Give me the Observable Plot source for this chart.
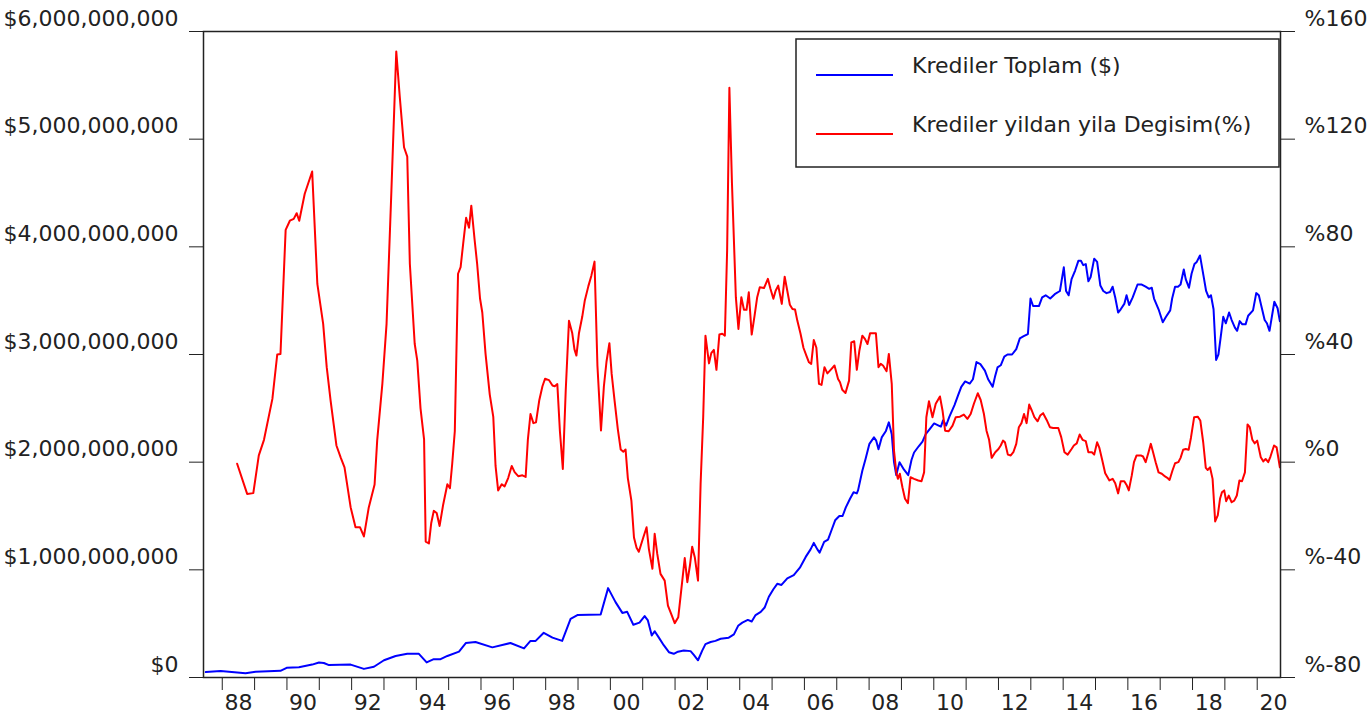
<!DOCTYPE html>
<html>
<head>
<meta charset="utf-8">
<script src="https://cdn.jsdelivr.net/npm/d3@7"></script>
<script src="https://cdn.jsdelivr.net/npm/@observablehq/plot@0.6"></script>
<style>
  html, body { margin: 0; padding: 0; background: #fff; }
  svg { display: block; }
</style>
</head>
<body>
<div id="chart"></div>
<script>
// Krediler Toplam (billions of $), [decimal year, value]
const blueSeries = [
  [1987.49,0.05],[1987.95,0.06],[1988.72,0.04],[1989.03,0.053],[1989.80,0.062],[1989.99,0.09],
  [1990.37,0.096],[1990.78,0.12],[1990.99,0.14],[1991.14,0.135],[1991.30,0.115],[1991.97,0.12],
  [1992.38,0.08],[1992.69,0.10],[1993.00,0.16],[1993.36,0.20],[1993.72,0.22],[1994.08,0.22],
  [1994.32,0.14],[1994.54,0.17],[1994.75,0.17],[1994.96,0.20],[1995.32,0.24],[1995.53,0.32],
  [1995.83,0.33],[1996.35,0.28],[1996.91,0.32],[1997.33,0.27],[1997.53,0.34],[1997.69,0.34],
  [1997.94,0.415],[1998.21,0.37],[1998.51,0.34],[1998.77,0.545],[1998.98,0.58],[1999.70,0.585],
  [1999.93,0.83],[2000.16,0.70],[2000.37,0.60],[2000.52,0.61],[2000.71,0.49],[2000.90,0.51],
  [2001.06,0.57],[2001.16,0.53],[2001.28,0.39],[2001.37,0.43],[2001.50,0.37],[2001.65,0.30],
  [2001.81,0.235],[2001.96,0.22],[2002.09,0.24],[2002.27,0.25],[2002.48,0.245],[2002.58,0.21],
  [2002.71,0.16],[2002.84,0.25],[2002.94,0.31],[2003.10,0.33],[2003.25,0.34],[2003.41,0.36],
  [2003.66,0.37],[2003.82,0.40],[2003.95,0.48],[2004.08,0.51],[2004.25,0.535],[2004.37,0.52],
  [2004.49,0.58],[2004.65,0.61],[2004.77,0.65],[2004.90,0.75],[2005.04,0.82],[2005.16,0.87],
  [2005.29,0.86],[2005.47,0.92],[2005.67,0.95],[2005.86,1.02],[2006.04,1.12],[2006.19,1.19],
  [2006.29,1.25],[2006.40,1.19],[2006.47,1.16],[2006.61,1.26],[2006.73,1.28],[2006.84,1.37],
  [2006.95,1.46],[2007.08,1.50],[2007.18,1.50],[2007.28,1.58],[2007.41,1.66],[2007.52,1.72],
  [2007.62,1.71],[2007.66,1.74],[2007.79,1.92],[2007.89,2.03],[2008.01,2.17],[2008.15,2.23],
  [2008.22,2.20],[2008.29,2.12],[2008.39,2.23],[2008.52,2.29],[2008.61,2.37],[2008.70,2.26],
  [2008.77,2.00],[2008.84,1.88],[2008.94,2.00],[2009.08,1.93],[2009.21,1.88],[2009.31,2.02],
  [2009.39,2.09],[2009.54,2.15],[2009.65,2.19],[2009.75,2.26],[2009.88,2.31],[2010.01,2.36],
  [2010.15,2.34],[2010.22,2.33],[2010.29,2.39],[2010.38,2.34],[2010.48,2.42],[2010.64,2.53],
  [2010.75,2.62],[2010.85,2.70],[2010.97,2.75],[2011.11,2.73],[2011.21,2.77],[2011.32,2.93],
  [2011.44,2.91],[2011.58,2.85],[2011.68,2.77],[2011.82,2.70],[2011.89,2.79],[2011.97,2.88],
  [2012.07,2.90],[2012.18,2.98],[2012.28,3.00],[2012.42,3.00],[2012.55,3.05],[2012.66,3.15],
  [2012.78,3.17],[2012.91,3.19],[2012.99,3.52],[2013.07,3.45],[2013.25,3.45],[2013.35,3.53],
  [2013.46,3.55],[2013.60,3.52],[2013.74,3.56],[2013.90,3.59],[2014.02,3.81],[2014.09,3.59],
  [2014.17,3.55],[2014.26,3.70],[2014.37,3.78],[2014.47,3.87],[2014.55,3.87],[2014.62,3.83],
  [2014.70,3.84],[2014.78,3.68],[2014.85,3.72],[2014.96,3.89],[2015.05,3.86],[2015.15,3.64],
  [2015.24,3.59],[2015.34,3.57],[2015.45,3.58],[2015.53,3.63],[2015.61,3.53],[2015.70,3.39],
  [2015.78,3.42],[2015.89,3.47],[2015.96,3.55],[2016.04,3.46],[2016.15,3.53],[2016.30,3.65],
  [2016.43,3.65],[2016.55,3.63],[2016.66,3.61],[2016.74,3.62],[2016.81,3.52],[2016.95,3.42],
  [2017.08,3.30],[2017.18,3.35],[2017.31,3.41],[2017.37,3.52],[2017.46,3.63],[2017.55,3.63],
  [2017.63,3.65],[2017.73,3.79],[2017.79,3.70],[2017.89,3.62],[2017.97,3.75],[2018.06,3.84],
  [2018.13,3.86],[2018.23,3.92],[2018.34,3.73],[2018.42,3.59],[2018.50,3.53],[2018.57,3.55],
  [2018.65,3.42],[2018.73,2.95],[2018.80,3.00],[2018.87,3.16],[2018.95,3.35],[2019.03,3.29],
  [2019.13,3.39],[2019.21,3.32],[2019.31,3.25],[2019.38,3.22],[2019.46,3.31],[2019.54,3.28],
  [2019.64,3.28],[2019.72,3.36],[2019.87,3.41],[2019.97,3.57],[2020.05,3.55],[2020.12,3.46],
  [2020.23,3.32],[2020.30,3.29],[2020.38,3.22],[2020.53,3.49],[2020.63,3.43],[2020.70,3.31]
];

// Krediler yildan yila Degisim (%), [decimal year, percent]
const redSeries = [
  [1988.46,-0.6],[1988.77,-11.8],[1988.96,-11.5],[1989.13,2.5],[1989.29,8.3],[1989.55,23.5],
  [1989.70,40],[1989.80,40.2],[1989.96,86.3],[1990.09,89.7],[1990.21,90.4],[1990.30,92.5],
  [1990.38,89.7],[1990.55,99.7],[1990.78,108],[1990.94,66.2],[1991.12,51.4],[1991.23,35.3],
  [1991.35,22.9],[1991.53,6.2],[1991.66,1.8],[1991.78,-1.9],[1991.97,-16.8],[1992.12,-24.2],
  [1992.26,-24.2],[1992.38,-27.6],[1992.53,-16.8],[1992.71,-8.3],[1992.79,8],[1992.95,29.1],
  [1993.08,51.4],[1993.23,100.9],[1993.38,152.6],[1993.49,135.5],[1993.62,117],[1993.72,113.5],
  [1993.80,73.7],[1993.95,44],[1994.03,37.7],[1994.13,20],[1994.24,8.5],[1994.29,-29.5],
  [1994.39,-30.2],[1994.46,-22.7],[1994.54,-18.1],[1994.63,-18.9],[1994.72,-23.7],[1994.83,-15.8],
  [1994.96,-8.2],[1995.04,-9.7],[1995.11,-0.6],[1995.19,11.5],[1995.29,70],[1995.37,72.5],
  [1995.45,81.3],[1995.54,90.8],[1995.63,87.1],[1995.70,95.3],[1995.80,82.9],[1995.88,73.8],
  [1995.97,60.8],[1996.04,55.6],[1996.14,40.3],[1996.27,25.2],[1996.38,16.8],[1996.45,-1.4],
  [1996.53,-10.5],[1996.64,-8.2],[1996.73,-9],[1996.84,-5.9],[1996.95,-1.4],[1997.04,-3.7],
  [1997.15,-5.2],[1997.28,-4.9],[1997.38,-5.5],[1997.45,8.5],[1997.53,17.9],[1997.62,14.5],
  [1997.70,14.8],[1997.80,22.9],[1997.90,28.2],[1997.98,31],[1998.10,30.5],[1998.21,28.5],
  [1998.28,28.2],[1998.36,29],[1998.44,11.5],[1998.53,-2.5],[1998.62,26.7],[1998.72,52.5],
  [1998.82,48],[1998.89,41.9],[1998.95,39.6],[1999.03,48],[1999.13,54],[1999.21,60.1],
  [1999.32,65.4],[1999.41,69.2],[1999.51,74.5],[1999.60,35.8],[1999.71,11.8],[1999.80,28.2],
  [1999.88,37.3],[1999.97,44.2],[2000.04,32.8],[2000.13,22.9],[2000.23,12.3],[2000.32,4.7],
  [2000.40,3.9],[2000.47,4.7],[2000.54,-5.9],[2000.65,-14.3],[2000.73,-28],[2000.81,-31.8],
  [2000.88,-33.3],[2001.02,-27.9],[2001.12,-24.2],[2001.19,-32.2],[2001.30,-39.6],[2001.37,-26.6],
  [2001.45,-34.1],[2001.55,-41.5],[2001.68,-44],[2001.78,-53.3],[2001.88,-56.4],[2001.99,-59.8],
  [2002.10,-57.6],[2002.19,-47.7],[2002.30,-35.6],[2002.38,-44.6],[2002.46,-38.4],[2002.53,-31.4],
  [2002.61,-35.3],[2002.71,-44],[2002.79,-8.1],[2002.87,16.7],[2002.94,47],[2003.05,36.7],
  [2003.12,40.5],[2003.20,41.7],[2003.28,34.3],[2003.37,47.4],[2003.46,47.7],[2003.54,47],
  [2003.61,78.6],[2003.68,139.1],[2003.76,103.5],[2003.88,61.3],[2003.96,49.5],[2004.05,61.3],
  [2004.13,56.6],[2004.21,56.6],[2004.28,63.1],[2004.37,47.4],[2004.46,54.5],[2004.54,61.3],
  [2004.62,65],[2004.75,64.7],[2004.87,68.1],[2004.95,64.4],[2005.04,60.7],[2005.11,63.7],
  [2005.19,65.6],[2005.30,58.8],[2005.39,68.9],[2005.47,63.7],[2005.55,58.5],[2005.63,56.9],
  [2005.71,56.7],[2005.78,52.6],[2005.88,47.7],[2005.97,42.5],[2006.06,39.6],[2006.14,37.1],
  [2006.21,36.5],[2006.29,45.4],[2006.37,42.5],[2006.45,29.1],[2006.53,28.7],[2006.62,35.3],
  [2006.71,33],[2006.81,34.3],[2006.93,35.9],[2007.04,30.9],[2007.10,29.7],[2007.17,26.9],
  [2007.27,25.7],[2007.38,30.3],[2007.45,44.5],[2007.54,44.9],[2007.62,34.3],[2007.70,41.5],
  [2007.79,47],[2007.87,45.8],[2007.95,43.9],[2008.03,47.9],[2008.12,47.9],[2008.21,47.9],
  [2008.29,35.3],[2008.36,36.5],[2008.43,35.9],[2008.54,33.8],[2008.61,40.2],[2008.70,29.1],
  [2008.77,4.3],[2008.84,-3.8],[2008.89,-6.2],[2008.95,-4.3],[2009.03,-9.3],[2009.11,-13.6],
  [2009.20,-15.2],[2009.28,-5.6],[2009.39,-6.2],[2009.52,-6.8],[2009.62,-7.1],[2009.70,-3.8],
  [2009.77,16.7],[2009.85,22.6],[2009.96,16.7],[2010.06,21.7],[2010.19,24.4],[2010.27,19.2],
  [2010.35,11.7],[2010.46,11.5],[2010.58,13.6],[2010.68,16.7],[2010.81,16.9],[2010.93,17.7],
  [2011.04,16.1],[2011.14,17.9],[2011.24,21.7],[2011.36,25.6],[2011.45,23.1],[2011.55,17.9],
  [2011.63,11.7],[2011.71,8.3],[2011.79,1.6],[2011.90,3.7],[2012.00,4.9],[2012.07,6.2],
  [2012.14,8],[2012.20,7.4],[2012.29,2.8],[2012.38,2.5],[2012.46,3.7],[2012.55,6.8],
  [2012.63,13],[2012.71,14.5],[2012.79,17.9],[2012.87,14.5],[2012.95,21.4],[2013.03,19.2],
  [2013.11,16.7],[2013.21,15.2],[2013.29,17.3],[2013.38,18.2],[2013.49,15.7],[2013.59,13],
  [2013.69,12.7],[2013.85,12.7],[2013.94,9.3],[2014.04,3.7],[2014.14,2.8],[2014.26,4.9],
  [2014.33,6.2],[2014.42,7],[2014.51,10.3],[2014.60,8.3],[2014.70,7.8],[2014.78,3.7],
  [2014.89,3.7],[2014.96,2.8],[2015.05,7.4],[2015.12,5.3],[2015.20,1.2],[2015.30,-4.1],
  [2015.43,-6.8],[2015.53,-6.2],[2015.61,-7.8],[2015.70,-11.6],[2015.78,-7.1],[2015.89,-7.1],
  [2015.97,-8.7],[2016.03,-10.5],[2016.12,-5],[2016.19,0],[2016.27,2.5],[2016.40,2.5],
  [2016.47,2.1],[2016.55,0],[2016.64,3.7],[2016.71,6.8],[2016.78,3.7],[2016.86,0],
  [2016.95,-3.8],[2017.05,-4.3],[2017.15,-5.3],[2017.22,-5.8],[2017.29,-6.6],[2017.38,-3.1],
  [2017.46,-0.4],[2017.56,0],[2017.63,1.6],[2017.71,4.6],[2017.79,4.9],[2017.88,4.6],
  [2017.95,9],[2018.05,16.7],[2018.16,16.9],[2018.24,15.5],[2018.33,7.4],[2018.41,-2.1],
  [2018.47,-2.9],[2018.54,-1.9],[2018.62,-6.2],[2018.70,-22],[2018.78,-19.8],[2018.85,-13.6],
  [2018.91,-11.2],[2018.98,-10.5],[2019.04,-14.5],[2019.12,-12.4],[2019.21,-14.9],[2019.29,-14.3],
  [2019.37,-12.4],[2019.45,-6.8],[2019.53,-7.1],[2019.62,-3.8],[2019.70,14],[2019.77,13],
  [2019.85,8.3],[2019.92,7],[2020.00,8],[2020.11,1.8],[2020.19,0.3],[2020.26,1.2],
  [2020.34,0],[2020.41,2.1],[2020.52,6.2],[2020.60,5.5],[2020.70,-1.9]
];

const leftTicks = [0, 1e9, 2e9, 3e9, 4e9, 5e9, 6e9];
const rightTicks = [-80, -40, 0, 40, 80, 120, 160];
const yearTicks = d3.range(1988, 2021);
const xLabelYears = d3.range(1988, 2021, 2);
const xLabels = ["88","90","92","94","96","98","00","02","04","06","08","10","12","14","16","18","20"];
const legendLabels = ["Krediler Toplam ($)", "Krediler yildan yila Degisim(%)"];
const seriesColors = ["#0000ff", "#ff0000"];

const yMax = 6e9, pMin = -80, pMax = 160;
const toLeft = p => (p - pMin) / (pMax - pMin) * yMax;
const fromLeft = v => v / yMax * (pMax - pMin) + pMin;
const fmtComma = d3.format(",");

const chart = Plot.plot({
  width: 1372,
  height: 720,
  marginLeft: 203,
  marginRight: 92,
  marginTop: 31,
  marginBottom: 43,
  style: { fontFamily: "'DejaVu Sans', sans-serif", fontSize: "22px", color: "#222", background: "#fff" },
  x: { domain: [1987.42, 2020.72] },
  y: { domain: [0, yMax] },
  marks: [
    Plot.axisY({ ticks: leftTicks, tickFormat: () => "", tickSize: 14, label: null }),
    Plot.axisY({ ticks: leftTicks, tickFormat: v => "$" + fmtComma(v), tickSize: 0, tickPadding: 25, dy: -13, label: null }),
    Plot.axisY({ anchor: "right", ticks: rightTicks.map(toLeft), tickFormat: () => "", tickSize: 14, label: null }),
    Plot.axisY({ anchor: "right", ticks: rightTicks.map(toLeft), tickFormat: v => "%" + Math.round(fromLeft(v)), tickSize: 0, tickPadding: 24, dy: -13, label: null }),
    Plot.axisX({ ticks: yearTicks, tickFormat: () => "", tickSize: 13, label: null }),
    Plot.axisX({ ticks: xLabelYears.map(y => y + 0.5), tickFormat: d => xLabels[xLabelYears.indexOf(Math.floor(d))], tickSize: 0, tickPadding: 17, label: null }),
    Plot.line(blueSeries, { x: d => d[0], y: d => d[1] * 1e9, stroke: seriesColors[0], strokeWidth: 2 }),
    Plot.line(redSeries, { x: d => d[0], y: d => toLeft(d[1]), stroke: seriesColors[1], strokeWidth: 2 }),
    Plot.frame({ stroke: "#222", strokeWidth: 1.5 })
  ]
});

document.getElementById("chart").appendChild(chart);

// legend box inside the plot area
const svg = d3.select(chart);
const lg = svg.append("g")
  .attr("font-family", "'DejaVu Sans', sans-serif")
  .attr("font-size", 22)
  .attr("text-anchor", "start")
  .attr("fill", "#222");
lg.append("rect").attr("x", 796).attr("y", 39).attr("width", 483).attr("height", 128)
  .attr("fill", "#fff").attr("stroke", "#222").attr("stroke-width", 1.5);
const rowY = [75, 134];
legendLabels.forEach((lab, i) => {
  lg.append("line").attr("x1", 816).attr("x2", 893).attr("y1", rowY[i]).attr("y2", rowY[i])
    .attr("stroke", seriesColors[i]).attr("stroke-width", 2);
  lg.append("text").attr("x", 912).attr("y", rowY[i] - 2).attr("text-anchor", "start").text(lab);
});
</script>
</body>
</html>
